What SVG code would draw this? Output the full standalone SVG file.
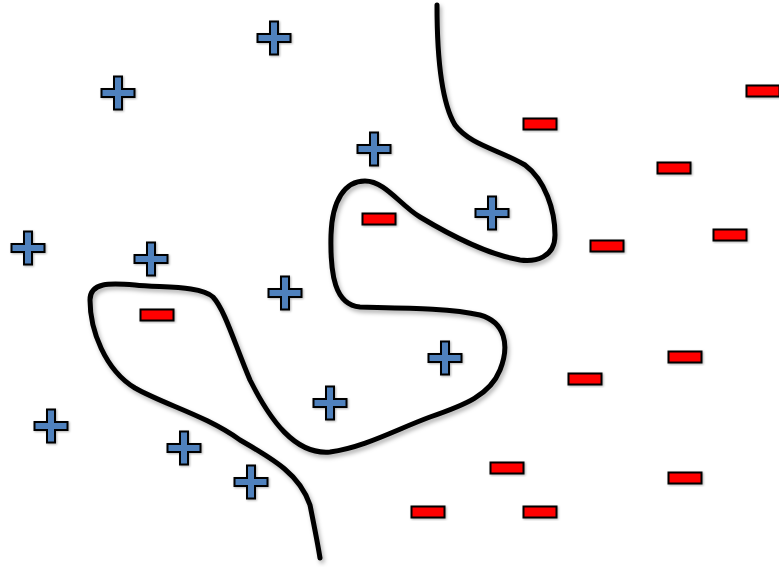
<svg xmlns="http://www.w3.org/2000/svg" width="779" height="567" viewBox="0 0 779 567">
<defs>
<filter id="sh" x="-20%" y="-20%" width="140%" height="140%">
<feDropShadow dx="2" dy="3" stdDeviation="2" flood-color="#000" flood-opacity="0.3"/>
</filter>
<filter id="sh2" x="-30%" y="-30%" width="160%" height="160%">
<feDropShadow dx="1" dy="1" stdDeviation="1" flood-color="#000" flood-opacity="0.3"/>
</filter>
<path id="plus" d="M-4,-16.5 H4 V-4 H16.5 V4 H4 V16.5 H-4 V4 H-16.5 V-4 H-4 Z"/>
<rect id="minus" x="-16.5" y="-5.5" width="33" height="11"/>
</defs>
<style>
.p{fill:#4F81BD;stroke:#000;stroke-width:2;filter:url(#sh2)}
.m{fill:#FF0000;stroke:#000;stroke-width:2;filter:url(#sh2)}
.b{fill:none;stroke:#000;stroke-width:5;stroke-linecap:round;stroke-linejoin:round;filter:url(#sh)}
</style>
<rect width="779" height="567" fill="#fff"/>
<g id="connectors">
<path class="b" d="M437,5 C437,50 440,100 455,125 C470,145 500,150 525,165 C545,180 555,210 555,235 C555,258 535,262 520,260 C490,255 450,235 420,217 C400,205 385,181 365,181 C345,181 332,200 331,235 C330,275 335,305 360,307 C400,308 450,308 480,315 C505,322 510,345 500,370 C490,395 465,405 430,417 C395,430 365,447 330,452 C295,455 270,420 250,380 C235,345 225,310 213,297 C200,285 160,288 135,285 C110,283 90,282 90,300 C90,330 105,370 135,388 C165,405 205,415 240,440 C275,460 300,475 310,505 C315,530 318,545 320,558"/>
</g>
<g id="pos">
<use href="#plus" class="p" x="274" y="38"/>
<use href="#plus" class="p" x="118" y="93"/>
<use href="#plus" class="p" x="374" y="149"/>
<use href="#plus" class="p" x="28" y="248"/>
<use href="#plus" class="p" x="151" y="259"/>
<use href="#plus" class="p" x="285" y="293"/>
<use href="#plus" class="p" x="492" y="213"/>
<use href="#plus" class="p" x="445" y="358"/>
<use href="#plus" class="p" x="330" y="403"/>
<use href="#plus" class="p" x="51" y="426"/>
<use href="#plus" class="p" x="184" y="448"/>
<use href="#plus" class="p" x="251" y="482"/>
</g>
<g id="neg">
<use href="#minus" class="m" x="540" y="124"/>
<use href="#minus" class="m" x="763" y="91"/>
<use href="#minus" class="m" x="674" y="168"/>
<use href="#minus" class="m" x="379" y="219"/>
<use href="#minus" class="m" x="607" y="246"/>
<use href="#minus" class="m" x="730" y="235"/>
<use href="#minus" class="m" x="157" y="315"/>
<use href="#minus" class="m" x="685" y="357"/>
<use href="#minus" class="m" x="585" y="379"/>
<use href="#minus" class="m" x="507" y="468"/>
<use href="#minus" class="m" x="685" y="478"/>
<use href="#minus" class="m" x="428" y="512"/>
<use href="#minus" class="m" x="540" y="512"/>
</g>
</svg>
